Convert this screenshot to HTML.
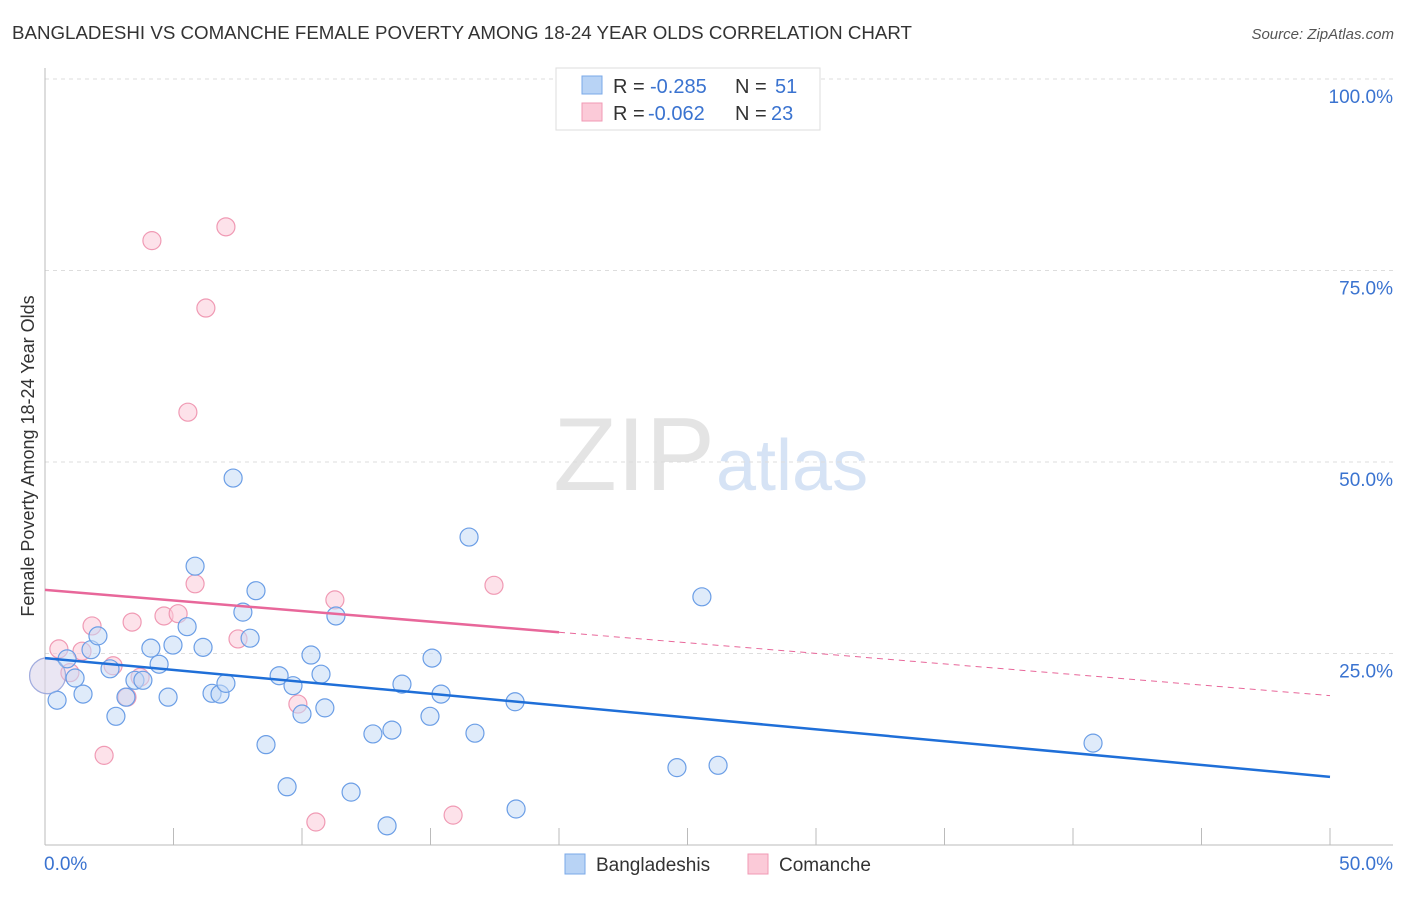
<!DOCTYPE html>
<html><head><meta charset="utf-8"><style>
body{margin:0;background:#fff;font-family:"Liberation Sans",sans-serif;}
svg text{font-family:"Liberation Sans",sans-serif;}
</style></head><body>
<svg id="chart" width="1406" height="892" xmlns="http://www.w3.org/2000/svg">
<text x="12" y="39" font-size="18" fill="#333" textLength="900" lengthAdjust="spacingAndGlyphs">BANGLADESHI VS COMANCHE FEMALE POVERTY AMONG 18-24 YEAR OLDS CORRELATION CHART</text>
<text x="1394" y="39" font-size="15" fill="#555" font-style="italic" text-anchor="end">Source: ZipAtlas.com</text>
<text x="715" y="490" font-size="104" fill="#e4e4e4" text-anchor="end" font-family="Liberation Serif">ZIP</text>
<text x="716" y="490" font-size="72" fill="#d6e3f5">atlas</text>
<text transform="translate(34,456) rotate(-90)" font-size="18" fill="#333" text-anchor="middle">Female Poverty Among 18-24 Year Olds</text>
<g id="grid"></g><g id="marks"></g><g id="lines"></g>
<g>
<rect x="556" y="68" width="264" height="62" fill="#fff" stroke="#ddd"/>
<rect x="582" y="76" width="20" height="18" fill="#b8d3f5" stroke="#7aa8e8"/>
<text x="613" y="93" font-size="20" fill="#333">R = </text>
<text x="650" y="93" font-size="20" fill="#3a73d0">-0.285</text>
<text x="735" y="93" font-size="20" fill="#333">N = </text>
<text x="775" y="93" font-size="20" fill="#3a73d0">51</text>
<rect x="582" y="103" width="20" height="18" fill="#fbcad8" stroke="#f09ab4"/>
<text x="613" y="120" font-size="20" fill="#333">R = </text>
<text x="648" y="120" font-size="20" fill="#3a73d0">-0.062</text>
<text x="735" y="120" font-size="20" fill="#333">N = </text>
<text x="771" y="120" font-size="20" fill="#3a73d0">23</text>
</g>
<g>
<rect x="565" y="854" width="20" height="20" fill="#b8d3f5" stroke="#7aa8e8"/>
<text x="596" y="871" font-size="19" fill="#333">Bangladeshis</text>
<rect x="748" y="854" width="20" height="20" fill="#fbcad8" stroke="#f09ab4"/>
<text x="779" y="871" font-size="19" fill="#333">Comanche</text>
</g>
</svg>
<script>
const blueX=[0.47,0.86,1.17,1.48,1.79,2.06,2.53,2.76,3.15,3.50,3.81,4.12,4.44,4.79,4.98,5.53,5.84,6.15,6.50,6.81,7.04,7.32,7.70,7.98,8.21,8.60,9.11,9.42,9.65,10.0,10.35,10.74,10.89,11.32,11.91,12.76,13.31,13.50,13.89,14.98,15.06,15.41,16.50,16.73,18.29,18.33,24.59,25.56,26.19,40.78,0.1];
const blueY=[18.9,24.3,21.8,19.7,25.5,27.3,23.0,16.8,19.3,21.5,21.5,25.7,23.6,19.3,26.1,28.5,36.4,25.8,19.8,19.7,21.1,47.9,30.4,27.0,33.2,13.1,22.1,7.6,20.8,17.1,24.8,22.3,17.9,29.9,6.9,14.5,2.5,15.0,21.0,16.8,24.4,19.7,40.2,14.6,18.7,4.7,10.1,32.4,10.4,13.3,22.1];
const pinkX=[0.1,0.54,0.97,1.44,1.83,2.65,3.19,2.30,3.39,3.70,4.16,4.63,5.18,5.56,5.84,6.26,7.04,7.51,9.84,10.54,11.28,15.88,17.47];
const pinkY=[22.1,25.6,22.5,25.3,28.6,23.4,19.3,11.7,29.1,21.9,78.9,29.9,30.2,56.5,34.1,70.1,80.7,26.9,18.4,3.0,32.0,3.9,33.9];
const yTicks=[25,50,75,100];
const xTicks=[0,5,10,15,20,25,30,35,40,45,50];
const blueTrend=[24.4,8.9];
const pinkTrend=[33.3,19.5];
const pinkSolidEnd=20;
const NS='http://www.w3.org/2000/svg';
const sx=v=>45+v/50*1285, sy=v=>845-v/100*766;
function mk(tag,attrs,parent){const e=document.createElementNS(NS,tag);for(const k in attrs)e.setAttribute(k,attrs[k]);parent.appendChild(e);return e;}
const grid=document.getElementById('grid'),marks=document.getElementById('marks'),lines=document.getElementById('lines');
yTicks.forEach(t=>{
 const l=mk('line',{x1:45,x2:1393,y1:sy(t),y2:sy(t),stroke:'#ddd','stroke-dasharray':'4,4'},grid);
 
 
 const tx=mk('text',{x:1393,y:sy(t)+24,'font-size':19,fill:'#3a73d0','text-anchor':'end'},grid);tx.textContent=t.toFixed(1)+'%';
 
 
});
mk('line',{x1:45,x2:45,y1:68,y2:845,stroke:'#bbb'},grid);
mk('line',{x1:45,x2:1393,y1:845,y2:845,stroke:'#bbb'},grid);
xTicks.forEach(t=>{
 const l=mk('line',{x1:sx(t),x2:sx(t),y1:828,y2:845,stroke:'#bbb'},grid);
 
 
});
[[0,'start'],[50,'end']].forEach(([t,a])=>{
 const tx=mk('text',{x:t==0?44:1393,y:870,'font-size':19,fill:'#3a73d0','text-anchor':a},grid);tx.textContent=t.toFixed(1)+'%';
 
 
});
function pts(X,Y,fill,stroke,name){X.forEach((x,i)=>{
 const big=(x<=0.1);
 const c=mk('circle',{cx:sx(x),cy:sy(Y[i]),r:big?18:9,fill:fill,'fill-opacity':big?0.35:0.55,stroke:stroke,'stroke-width':1.2,'stroke-opacity':big?0.6:1},marks);
 
 
});}
pts(pinkX,pinkY,'#fbcad8','#f09ab4','comanche-point');
pts(blueX,blueY,'#c5dbf6','#6b9ee6','bangladeshi-point');
const bl=mk('line',{x1:sx(0),y1:sy(blueTrend[0]),x2:sx(50),y2:sy(blueTrend[1]),stroke:'#1f6fd8','stroke-width':2.5},lines);


const pm=pinkTrend[0]+(pinkTrend[1]-pinkTrend[0])*pinkSolidEnd/50;
const pl=mk('line',{x1:sx(0),y1:sy(pinkTrend[0]),x2:sx(pinkSolidEnd),y2:sy(pm),stroke:'#e8679a','stroke-width':2.5},lines);


const pd=mk('line',{x1:sx(pinkSolidEnd),y1:sy(pm),x2:sx(50),y2:sy(pinkTrend[1]),stroke:'#e8679a','stroke-width':1,'stroke-dasharray':'6,5'},lines);


</script>
</body></html>
